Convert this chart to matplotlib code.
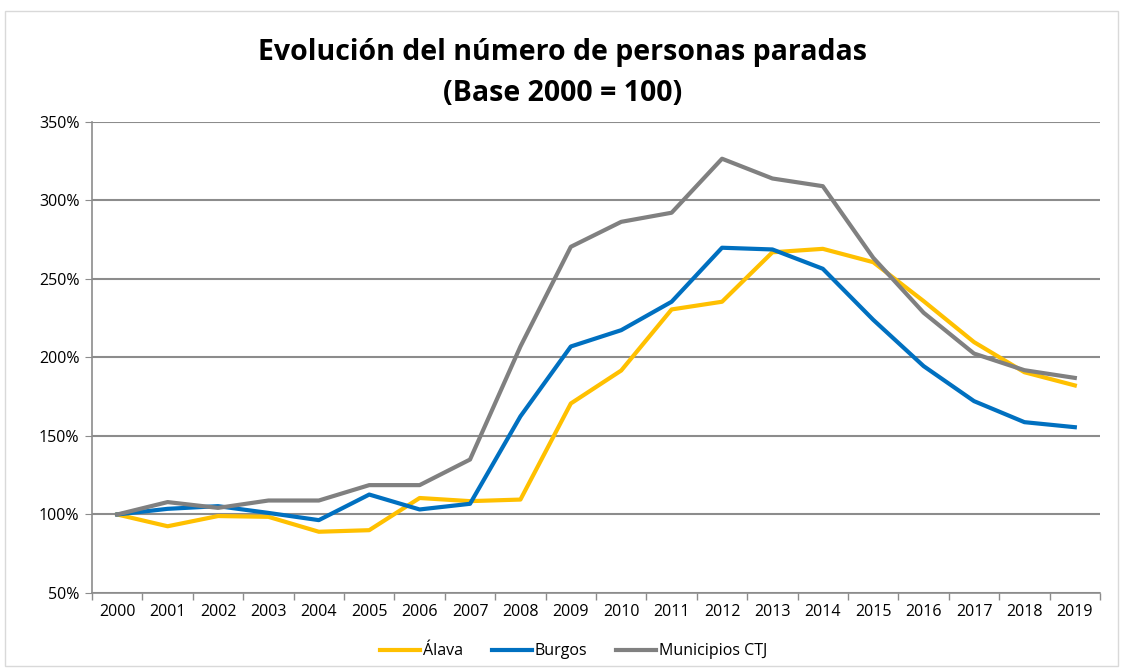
import matplotlib
matplotlib.use("Agg")
import matplotlib.pyplot as plt
from matplotlib.patches import Rectangle
from matplotlib.ticker import FuncFormatter, MultipleLocator
import numpy as np

years = [str(y) for y in range(2000, 2020)]

alava = [100, 92.5, 99, 98.5, 89, 90, 110.5, 108.5, 109.5, 170.7,
         191.7, 230.6, 235.5, 267, 269.2, 260.7, 235.9, 209.8, 190.6, 182.2]
burgos = [100, 103.6, 105.3, 101, 96.4, 112.7, 103.2, 106.8, 162.5, 207,
          217.4, 235.5, 269.9, 268.8, 256.5, 224, 194.5, 172.2, 158.8, 155.6]
ctj = [100, 107.9, 104.2, 108.9, 108.9, 118.7, 118.7, 135, 207, 270.5,
       286.4, 292.2, 326.6, 314, 309.1, 263.5, 228.5, 202.5, 191.9, 187]

series_names = ["Álava", "Burgos", "Municipios CTJ"]
colors = ["#FFC000", "#0070C0", "#808080"]

plt.rcParams['font.family'] = ['Open Sans', 'DejaVu Sans']

fig = plt.figure(figsize=(11.25, 6.68), dpi=100)
ax = fig.add_axes([0.0818, 0.1123, 0.896, 0.7051])

x = np.arange(len(years))
for vals, name, c in zip([alava, burgos, ctj], series_names, colors):
    ax.plot(x, vals, color=c, lw=3, label=name, solid_joinstyle='round')

ax.set_xlim(-0.5, len(years) - 0.5)
ax.set_ylim(50, 350)
ax.yaxis.set_major_locator(MultipleLocator(50))
ax.yaxis.set_major_formatter(FuncFormatter(lambda v, p: f"{v:.0f}%"))
ax.grid(axis='y', color='#8c8c8c', lw=1.5)
ax.set_axisbelow(True)

ax.set_xticks(x)
ax.set_xticklabels(years)
ax.set_xticks(np.arange(-0.5, len(years)), minor=True)
ax.tick_params(axis='x', which='major', length=0, pad=8, labelsize=11.5)
ax.tick_params(axis='x', which='minor', length=5, color='#8c8c8c', width=1)
ax.tick_params(axis='y', length=5, color='#8c8c8c', labelsize=11.5, pad=4)

for s in ['top', 'right']:
    ax.spines[s].set_visible(False)
for s in ['left', 'bottom']:
    ax.spines[s].set_color('#8c8c8c')
    ax.spines[s].set_linewidth(1.2)

fig.text(0.5, 0.922, "Evolución del número de personas paradas",
         ha='center', va='center', fontsize=20.5, fontweight='bold')
fig.text(0.5, 0.86, "(Base 2000 = 100)",
         ha='center', va='center', fontsize=20.5, fontweight='bold')

fig.legend(loc='center', bbox_to_anchor=(0.51, 0.025), ncol=3, frameon=False,
           fontsize=11.5, handlelength=2.5, handletextpad=0.2, columnspacing=1.8)

fig.patches.append(Rectangle((0.004, 0.003), 0.99, 0.98, transform=fig.transFigure,
                             fill=False, edgecolor='#d9d9d9', lw=1))

fig.savefig("out.png", dpi=100)
